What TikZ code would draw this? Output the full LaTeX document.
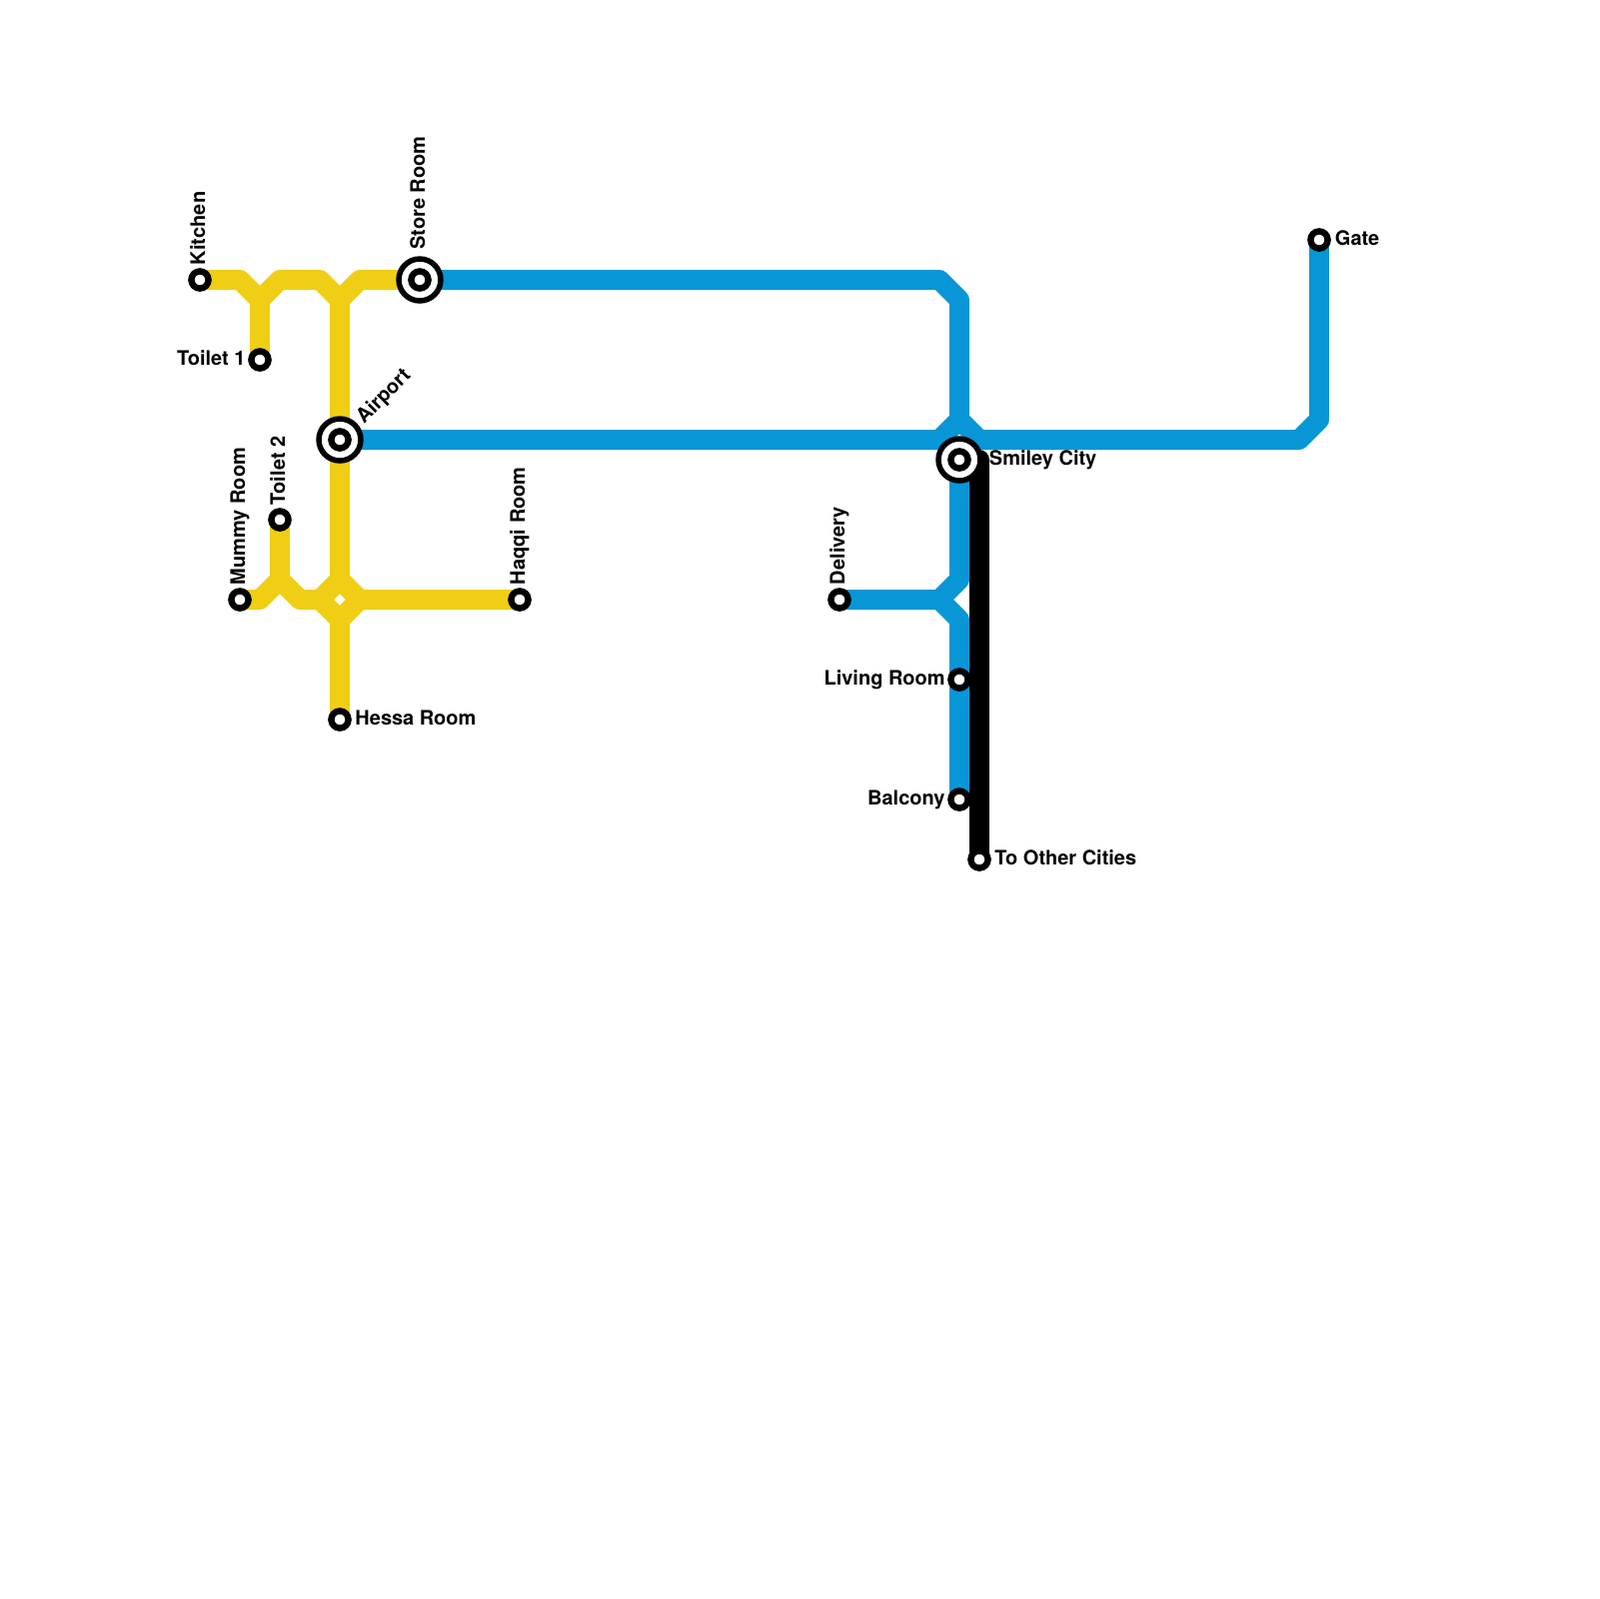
\documentclass[tikz,border=0pt]{standalone}
\usepackage{fontspec}
\setmainfont{TeX Gyre Heros}
\usetikzlibrary{positioning,backgrounds}
\definecolor{lineyellow}{HTML}{F0CE15}
\definecolor{lineblue}{HTML}{0896D7}
\tikzset{
  station/.style={circle,draw=black,fill=white,line width=0.64mm,minimum size=1.72mm,inner sep=0},
  hub/.style={circle,draw=black,fill=white,line width=0.55mm,minimum size=4.2mm,inner sep=0},
  track/.style={line width=2mm,line join=round},
  stnlabel/.style={font=\bfseries\fontsize{5.69pt}{6pt}\selectfont,inner sep=0,text height=1.43mm,text depth=0.42mm},
}
\newcommand{\stn}[3]{% x, y, name
  \node[station] (#3) at (#1,#2) {};}
\newcommand{\hubstn}[3]{% x, y, name  (ring round a small station)
  \node[hub] (#3) at (#1,#2) {};
  \node[station] (#3in) at (#3) {};}
\begin{document}
\begin{tikzpicture}[x=0.28375bp,y=-0.28375bp]
  \useasboundingbox (0,0) rectangle (1600,1600);
  % ---- stations ----
  \stn{200}{280}{kitchen}
  \stn{260}{360}{toilet1}
  \stn{280}{520}{toilet2}
  \stn{240}{600}{mummy}
  \stn{340}{720}{hessa}
  \stn{520}{600}{haqqi}
  \stn{840}{600}{delivery}
  \stn{960}{680}{living}
  \stn{960}{800}{balcony}
  \stn{980}{860}{cities}
  \stn{1320}{240}{gate}
  \hubstn{420}{280}{store}
  \hubstn{340}{440}{airport}
  \hubstn{960}{460}{smiley}
  % ---- bends, yellow ----
  \coordinate (ya) at (240,280);
  \coordinate (yb) at (260,300);
  \coordinate (yc) at (280,280);
  \coordinate (yd) at (320,280);
  \coordinate (ye) at (340,300);
  \coordinate (yf) at (360,280);
  \coordinate (yg) at (260,600);
  \coordinate (yh) at (280,580);
  \coordinate (yi) at (300,600);
  \coordinate (yj) at (320,600);
  \coordinate (yk) at (340,580);
  \coordinate (yl) at (360,600);
  \coordinate (ym) at (340,620);
  % ---- bends, blue ----
  \coordinate (ba) at (940,280);
  \coordinate (bb) at (960,300);
  \coordinate (bc) at (940,440);
  \coordinate (bd) at (960,420);
  \coordinate (be) at (980,440);
  \coordinate (bf) at (1300,440);
  \coordinate (bg) at (1320,420);
  \coordinate (bh) at (960,580);
  \coordinate (bi) at (940,600);
  \coordinate (bj) at (960,620);
  \coordinate (blacktop) at (980,460);
  % ---- lines, under the stations ----
  \begin{pgfonlayer}{background}
    \draw[track,lineyellow] (kitchen.center) -- (ya) -- (yb) -- (yc) -- (yd) -- (ye) -- (yf) -- (store.center);
    \draw[track,lineyellow] (yb) -- (toilet1.center);
    \draw[track,lineyellow] (ye) -- (airport.center) -- (yk);
    \draw[track,lineyellow] (mummy.center) -- (yg) -- (yh) -- (yi) -- (yj) -- (yk) -- (yl) -- (haqqi.center);
    \draw[track,lineyellow] (toilet2.center) -- (yh);
    \draw[track,lineyellow] (yj) -- (ym) -- (yl);
    \draw[track,lineyellow] (ym) -- (hessa.center);
    \draw[track,lineblue] (store.center) -- (ba) -- (bb) -- (bd);
    \draw[track,lineblue] (airport.center) -- (bc) -- (bd) -- (be) -- (bf) -- (bg) -- (gate.center);
    \draw[track,lineblue] (smiley.center) -- (bh) -- (bi) -- (delivery.center);
    \draw[track,lineblue] (bi) -- (bj) -- (balcony.center);
    \draw[track,black,line cap=round] (blacktop) -- (cities.center);
  \end{pgfonlayer}
  % ---- labels ----
  \node[stnlabel,left=0.2mm of toilet1] (toilet1txt) {Toilet 1};
  \node[stnlabel,left=0.2mm of living] (livingtxt) {Living Room};
  \node[stnlabel,left=0.2mm of balcony] (balconytxt) {Balcony};
  \node[stnlabel,right=0.3mm of hessa] (hessatxt) {Hessa Room};
  \node[stnlabel,right=0.3mm of cities] (citiestxt) {To Other Cities};
  \node[stnlabel,right=0.35mm of gate] (gatetxt) {Gate};
  \node[stnlabel,right=0.55mm of smiley] (smileytxt) {Smiley City};
  \node[stnlabel,rotate=90,anchor=west] (kitchentxt) at ([yshift=0.25mm]kitchen.north) {Kitchen};
  \node[stnlabel,rotate=90,anchor=west] (toilet2txt) at ([yshift=0.25mm]toilet2.north) {Toilet 2};
  \node[stnlabel,rotate=90,anchor=west] (mummytxt) at ([yshift=0.25mm]mummy.north) {Mummy Room};
  \node[stnlabel,rotate=90,anchor=west] (haqqitxt) at ([yshift=0.25mm]haqqi.north) {Haqqi Room};
  \node[stnlabel,rotate=90,anchor=west] (deliverytxt) at ([yshift=0.25mm]delivery.north) {Delivery};
  \node[stnlabel,rotate=90,anchor=west] (storetxt) at ([yshift=0.6mm]store.north) {Store Room};
  \node[stnlabel,rotate=45,anchor=west] (airporttxt) at ([shift={(0.35mm,0.2mm)}]airport.north east) {Airport};
\end{tikzpicture}
\end{document}
